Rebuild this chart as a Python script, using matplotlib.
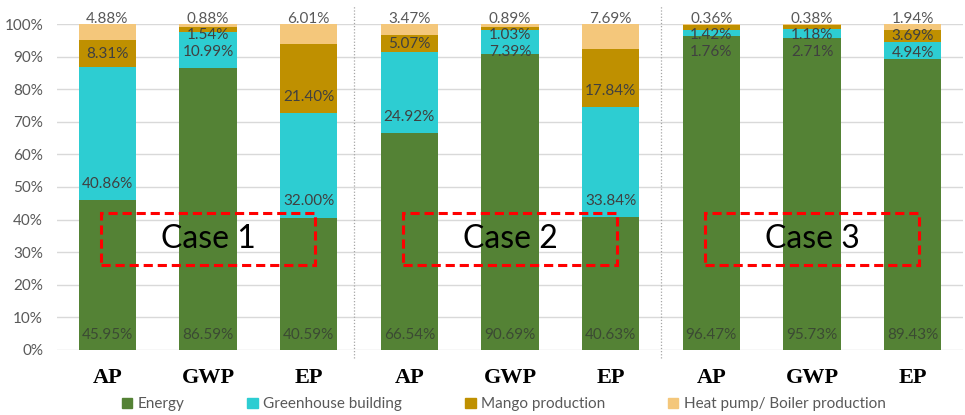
import numpy as np
import matplotlib.pyplot as plt
from matplotlib.patches import Patch, Rectangle

# impact categories, three per case
categories = ["AP", "GWP", "EP", "AP", "GWP", "EP", "AP", "GWP", "EP"]
cases = ["Case 1", "Case 2", "Case 3"]

# contribution (%) of each source
energy = [45.95, 86.59, 40.59, 66.54, 90.69, 40.63, 96.47, 95.73, 89.43]
greenhouse = [40.86, 10.99, 32.00, 24.92, 7.39, 33.84, 1.76, 2.71, 4.94]
mango = [8.31, 1.54, 21.40, 5.07, 1.03, 17.84, 1.42, 1.18, 3.69]
heat_pump = [4.88, 0.88, 6.01, 3.47, 0.89, 7.69, 0.36, 0.38, 1.94]

series = [
    ("Energy", energy, "#548235"),
    ("Greenhouse building", greenhouse, "#2dcdd2"),
    ("Mango production", mango, "#bf9000"),
    ("Heat pump/ Boiler production", heat_pump, "#f4c77b"),
]

plt.rcParams["font.family"] = ["Lato", "DejaVu Sans"]

fig = plt.figure(figsize=(9.65, 4.15), dpi=100)
ax = fig.add_axes([0.059, 0.157, 0.939, 0.785])

x = np.arange(len(categories))
width = 0.57
bottom = np.zeros(len(categories))
bases = []
for name, vals, color in series:
    vals = np.array(vals)
    ax.bar(x, vals, width, bottom=bottom, color=color, zorder=3, label=name)
    bases.append(bottom.copy())
    bottom = bottom + vals

# data labels: energy at the base, the rest stacked downwards from the top
lab_color = "#404040"
for i in range(len(categories)):
    ax.text(x[i], 4.6, f"{energy[i]:.2f}%", ha="center", va="center",
            fontsize=11, color="#3b4a33", zorder=4)
    y_heat = 101.5
    ax.text(x[i], y_heat, f"{heat_pump[i]:.2f}%", ha="center", va="center",
            fontsize=11, color="#595959", zorder=4)
    y_mango = min(bases[2][i] + min(5, mango[i] / 2), y_heat - 5)
    ax.text(x[i], y_mango, f"{mango[i]:.2f}%", ha="center", va="center",
            fontsize=11, color=lab_color, zorder=4)
    y_gh = min(bases[1][i] + min(5, greenhouse[i] / 2), y_mango - 5)
    ax.text(x[i], y_gh, f"{greenhouse[i]:.2f}%", ha="center", va="center",
            fontsize=11, color=lab_color, zorder=4)

# red dashed boxes marking each case
for k, case in enumerate(cases):
    x0 = 3 * k - 0.06
    ax.add_patch(Rectangle((x0, 26), 2.12, 16, fill=False, ec="#ff0000",
                           lw=2.2, ls=(0, (3, 1.6)), zorder=5))
    ax.text(x0 + 1.06, 34, case, ha="center", va="center", fontsize=23,
            color="black", zorder=5)

# dotted separators between cases
for sx in (2.45, 5.5):
    ax.plot([sx, sx], [-2.5, 105.8], color="#a6a6a6", lw=0.9, ls=(0, (1, 1.5)),
            clip_on=False, zorder=2)

ax.set_xlim(-0.5, len(categories) - 0.5)
ax.set_ylim(0, 100)
ax.set_yticks(np.arange(0, 101, 10))
ax.set_yticklabels([f"{v}%" for v in range(0, 101, 10)])
ax.set_xticks(x)
ax.set_xticklabels(categories, fontfamily="Liberation Serif", fontsize=16,
                   fontweight="semibold", color="black")
ax.tick_params(axis="y", length=0, pad=10, labelsize=11, labelcolor="#595959")
ax.tick_params(axis="x", length=0, pad=13)
ax.grid(axis="y", color="#d9d9d9", lw=1, zorder=0)
for s in ax.spines.values():
    s.set_visible(False)

handles = [Patch(color=c, label=n) for n, _, c in series]
fig.legend(handles=handles, loc="center", bbox_to_anchor=(0.522, 0.026), ncol=4,
           frameon=False, fontsize=11, labelcolor="#595959", handlelength=0.7,
           handleheight=0.7, handletextpad=0.35, columnspacing=4.1)

fig.savefig("out.png", dpi=100)
